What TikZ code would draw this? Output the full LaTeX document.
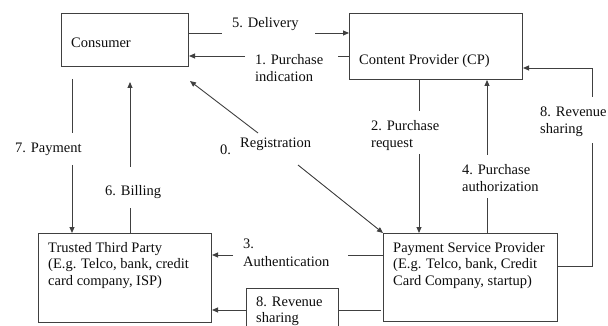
\documentclass[tikz,border=0pt]{standalone}
\usepackage{fontspec}
\setmainfont{Liberation Serif}
\usetikzlibrary{arrows.meta}
% left-aligned stack of lines whose baseline is the first line
\newcommand\mlines[1]{\begin{tabular}[t]{@{}l@{}}#1\end{tabular}}
\begin{document}
\begin{tikzpicture}[x=1pt,y=-1pt,
  box/.style={draw=black!75, line width=1pt, inner sep=0pt, anchor=north west},
  txt/.style={anchor=base west, inner sep=0pt, text=black!95,
              font=\fontsize{14.5}{16.5}\selectfont},
  link/.style={draw=black!75, line width=0.9pt},
  arr/.style={link, -{Triangle[length=6pt,width=5pt]}}]
\useasboundingbox (0,0) rectangle (608,326);

% parties
\node[box, minimum width=127pt, minimum height=53pt] (cons) at (61,13) {};
\node[box, minimum width=173pt, minimum height=66pt] (cp) at (349,13) {};
\node[box, minimum width=173pt, minimum height=89pt] (ttp) at (38,233) {};
\node[box, minimum width=174pt, minimum height=88pt] (psp) at (383,233) {};
\node[box, minimum width=92pt, minimum height=50pt] (rev2) at (246,288) {};

\node[txt] (consT) at (71,48) {Consumer};
\node[txt] (cpT) at (359,65) {Content Provider (CP)};
\node[txt] (ttpT) at (48,252) {\mlines{Trusted Third Party\\(E.g. Telco, bank, credit\\card company, ISP)}};
\node[txt] (pspT) at (393,252) {\mlines{Payment Service Provider\\(E.g. Telco, bank, Credit\\Card Company, startup)}};

% step labels
\node[txt] (l5) at (232,28) {5. Delivery};
\node[txt] (l1) at (255,65) {\mlines{1. Purchase\\indication}};
\node[txt] (l7) at (15,153) {7. Payment};
\node[txt] (l0a) at (220,155) {0.};
\node[txt] (l0b) at (240,148) {Registration};
\node[txt] (l6) at (105,195) {6. Billing};
\node[txt] (l3) at (243,248) {\mlines{3.\\[1.5pt]Authentication}};
\node[txt] (l8b) at (256,306) {\mlines{8. Revenue\\sharing}};
\node[txt] (l2) at (371,131) {\mlines{2. Purchase\\request}};
\node[txt] (l4) at (462,175) {\mlines{4. Purchase\\authorization}};
\node[txt] (l8a) at (540,117) {\mlines{8. Revenue\\sharing}};

% gap ends of the connectors
\coordinate (c5a) at (222,33);  \coordinate (c5b) at (315,33);
\coordinate (c1a) at (245,56);  \coordinate (c1b) at (338,56);
\coordinate (c7a) at (72,79);   \coordinate (c7b) at (72,133);  \coordinate (c7c) at (72,165);
\coordinate (c6a) at (130,208); \coordinate (c6b) at (130,167); \coordinate (c6c) at (130,82);
\coordinate (c0a) at (258,133); \coordinate (c0b) at (190,81);  \coordinate (c0c) at (298,165);
\coordinate (c2a) at (419,111); \coordinate (c2b) at (419,154);
\coordinate (c4a) at (487,198); \coordinate (c4b) at (487,155);
\coordinate (c8r) at (592,266); \coordinate (c8a) at (592,143);
\coordinate (c8b) at (592,97);  \coordinate (c8s) at (592,68);
\coordinate (c3a) at (233,255); \coordinate (c3b) at (348,255);
\coordinate (c9a) at (246,310); \coordinate (c9b) at (381,310);

% 5. Delivery
\draw[link] (cons.east |- c5a) -- (c5a);
\draw[arr] (c5b) -- (cp.west |- c5b);
% 1. Purchase indication
\draw[arr] (c1a) -- (cons.east |- c1a);
\draw[link] (cp.west |- c1b) -- (c1b);
% 7. Payment
\draw[link] (c7a) -- (c7b);
\draw[arr] (c7c) -- (ttp.north -| c7c);
% 6. Billing
\draw[link] (ttp.north -| c6a) -- (c6a);
\draw[arr] (c6b) -- (c6c);
% 0. Registration
\draw[arr] (c0a) -- (c0b);
\draw[arr] (c0c) -- (psp.north west);
% 2. Purchase request
\draw[link] (cp.south -| c2a) -- (c2a);
\draw[arr] (c2b) -- (psp.north -| c2b);
% 4. Purchase authorization
\draw[link] (psp.north -| c4a) -- (c4a);
\draw[arr] (c4b) -- (cp.south -| c4b);
% 8. Revenue sharing to the content provider
\draw[link] (psp.east |- c8r) -- (c8r) -- (c8a);
\draw[arr] (c8b) -- (c8s) -- (cp.east |- c8s);
% 3. Authentication
\draw[arr] (c3a) -- (ttp.east |- c3a);
\draw[link] (psp.west |- c3b) -- (c3b);
% 8. Revenue sharing to the trusted third party
\draw[arr] (rev2.west |- c9a) -- (ttp.east |- c9a);
\draw[link] (c9b) -- (rev2.east |- c9b);
\end{tikzpicture}
\end{document}
